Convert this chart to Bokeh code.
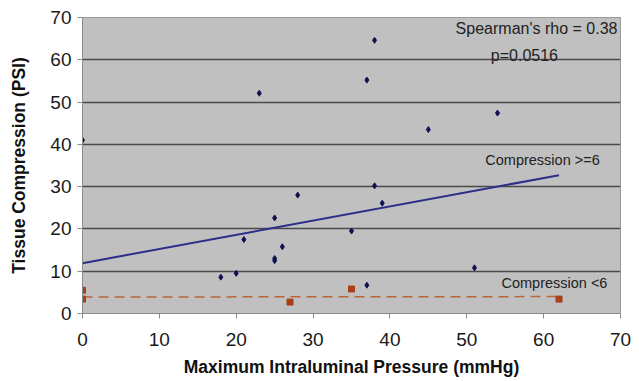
from bokeh.plotting import figure
from bokeh.models import Range1d, FixedTicker
from bokeh.embed import file_html
from bokeh.resources import INLINE
from bokeh.core.properties import value

# Compression >= 6 group
hi_pressure = [0, 38, 37, 23, 45, 54, 38, 28, 39, 25, 21, 35, 26, 25, 25, 18, 20, 37, 51]
hi_compression = [41, 64.6, 55.2, 52.1, 43.5, 47.4, 30.2, 28.0, 26.1, 22.6, 17.5, 19.5, 15.8, 13.0, 12.5, 8.6, 9.5, 6.7, 10.8]

# Compression < 6 group
lo_pressure = [0, 0, 27, 35, 62]
lo_compression = [5.5, 3.4, 2.7, 5.8, 3.4]

# Trend lines
trend_hi_x = [0, 62]
trend_hi_y = [11.9, 32.7]
trend_lo_x = [0, 62]
trend_lo_y = [3.9, 4.0]

x_ticks = [0, 10, 20, 30, 40, 50, 60, 70]
y_ticks = [0, 10, 20, 30, 40, 50, 60, 70]

FONT = "Liberation Sans"
NARROW = "Liberation Sans Narrow, Liberation Sans"

p = figure(width=639, height=381, output_backend="svg", toolbar_location=None,
           x_range=Range1d(0, 70), y_range=Range1d(0, 70),
           min_border_left=82, min_border_right=19, min_border_top=17, min_border_bottom=68)

p.background_fill_color = "#c0c0c0"
p.border_fill_color = "white"
p.outline_line_color = "#9a9a9a"
p.outline_line_width = 1

p.xgrid.visible = False
p.ygrid.ticker = FixedTicker(ticks=y_ticks)
p.ygrid.grid_line_color = "#4a4a4a"
p.ygrid.grid_line_width = 1.5

p.xaxis.ticker = FixedTicker(ticks=x_ticks)
p.yaxis.ticker = FixedTicker(ticks=y_ticks)
for ax in (p.xaxis, p.yaxis):
    ax.axis_line_color = "#8a8a8a"
    ax.major_tick_line_color = "#8a8a8a"
    ax.major_tick_out = 5
    ax.major_tick_in = 0
    ax.minor_tick_line_color = None
    ax.major_label_text_font = FONT
    ax.major_label_text_font_size = "19px"
    ax.major_label_text_color = "#1a1a1a"
    ax.axis_label_text_font = FONT
    ax.axis_label_text_font_style = "bold"
    ax.axis_label_text_color = "#111111"
    ax.axis_label_text_font_size = "17.5px"

p.xaxis.axis_label = "Maximum Intraluminal Pressure (mmHg)"
p.yaxis.axis_label = "Tissue Compression (PSI)"
p.xaxis.major_label_standoff = 14
p.xaxis.axis_label_standoff = 8
p.yaxis.major_label_standoff = 6
p.yaxis.axis_label_standoff = 18

# trend lines
p.line(trend_hi_x, trend_hi_y, line_color="#2b2f8a", line_width=2)
p.line(trend_lo_x, trend_lo_y, line_color="#b8673a", line_width=1.5, line_dash="10 6")

# points
p.scatter(hi_pressure, hi_compression, marker="diamond", size=6, fill_color="#101050", line_color="#101050")
p.scatter(lo_pressure, lo_compression, marker="square", size=6, fill_color="#a8401a", line_color="#a8401a")

# annotations
p.text(x=[69.6], y=[67.3], text=["Spearman's rho = 0.38"], text_align="right", text_baseline="middle",
       text_font=value(NARROW), text_font_size="16px", text_color="#222222")
p.text(x=[57.5], y=[61.0], text=["p=0.0516"], text_align="center", text_baseline="middle",
       text_font=value(NARROW), text_font_size="16px", text_color="#222222")
p.text(x=[67.3], y=[36.3], text=["Compression >=6"], text_align="right", text_baseline="middle",
       text_font=value(NARROW), text_font_size="14.5px", text_color="#222222")
p.text(x=[68.3], y=[7.2], text=["Compression <6"], text_align="right", text_baseline="middle",
       text_font=value(NARROW), text_font_size="14.5px", text_color="#222222")

open("out.html", "w").write(file_html(p, INLINE))
